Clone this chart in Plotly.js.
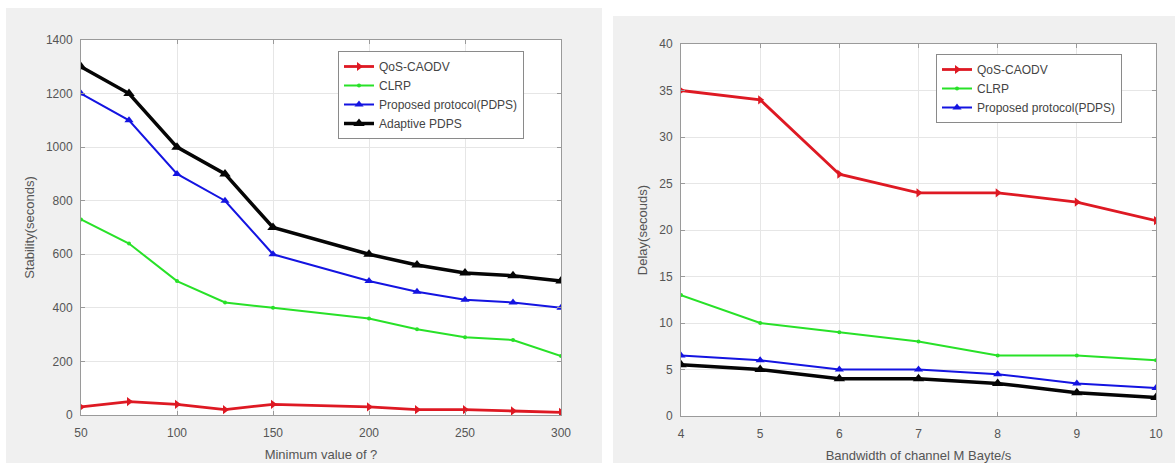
<!DOCTYPE html>
<html>
<head>
<meta charset="utf-8">
<script src="https://cdn.plot.ly/plotly-3.0.1.min.js"></script>
<style>html,body{margin:0;padding:0;background:#fff;}#chart{width:1175px;height:463px;}</style>
</head>
<body>
<div id="chart"></div>
<script>
// Left chart: stability vs minimum value
const xLeft = [50, 75, 100, 125, 150, 200, 225, 250, 275, 300];
const qosLeft = [30, 50, 40, 20, 40, 30, 20, 20, 15, 10];
const clrpLeft = [730, 640, 500, 420, 400, 360, 320, 290, 280, 220];
const pdpsLeft = [1200, 1100, 900, 800, 600, 500, 460, 430, 420, 400];
const adaptiveLeft = [1300, 1200, 1000, 900, 700, 600, 560, 530, 520, 500];

// Right chart: delay vs bandwidth
const xRight = [4, 5, 6, 7, 8, 9, 10];
const qosRight = [35, 34, 26, 24, 24, 23, 21];
const clrpRight = [13, 10, 9, 8, 6.5, 6.5, 6];
const pdpsRight = [6.5, 6, 5, 5, 4.5, 3.5, 3];
const adaptiveRight = [5.5, 5, 4, 4, 3.5, 2.5, 2];

const names = ["QoS-CAODV", "CLRP", "Proposed protocol(PDPS)", "Adaptive PDPS"];
const xTitleLeft = "Minimum value of ?";
const yTitleLeft = "Stability(seconds)";
const xTitleRight = "Bandwidth of channel M Bayte/s";
const yTitleRight = "Delay(secouds)";

const RED = "rgb(222,25,35)", GREEN = "rgb(40,225,40)", BLUE = "rgb(20,20,225)", BLACK = "rgb(5,5,5)";
const styles = [
  {color: RED, width: 2.8, symbol: "triangle-right", size: 8},
  {color: GREEN, width: 2, symbol: "circle", size: 4},
  {color: BLUE, width: 2, symbol: "triangle-up", size: 8},
  {color: BLACK, width: 3.5, symbol: "triangle-up", size: 10}
];

function tr(x, y, i, xa, ya, legend, show) {
  const s = styles[i];
  return {
    x: x, y: y, name: names[i], type: "scatter", mode: "lines+markers",
    xaxis: xa, yaxis: ya, legend: legend, showlegend: show,
    line: {color: s.color, width: s.width},
    marker: {color: s.color, symbol: s.symbol, size: s.size}
  };
}

const data = [
  tr(xLeft, qosLeft, 0, "x", "y", "legend", true),
  tr(xLeft, clrpLeft, 1, "x", "y", "legend", true),
  tr(xLeft, pdpsLeft, 2, "x", "y", "legend", true),
  tr(xLeft, adaptiveLeft, 3, "x", "y", "legend", true),
  tr(xRight, adaptiveRight, 3, "x2", "y2", "legend2", false),
  tr(xRight, qosRight, 0, "x2", "y2", "legend2", true),
  tr(xRight, clrpRight, 1, "x2", "y2", "legend2", true),
  tr(xRight, pdpsRight, 2, "x2", "y2", "legend2", true)
];

const FONT = "Liberation Sans, Arial, sans-serif";
const TITLE_FONT = {family: FONT, size: 13, color: "#555"};
const axisBase = {
  showline: true, mirror: "ticks", linecolor: "#9a9a9a", linewidth: 1,
  ticks: "inside", ticklen: 4, tickcolor: "#9a9a9a",
  showgrid: true, gridcolor: "#e6e6e6", gridwidth: 1, zeroline: false,
  tickfont: {family: FONT, size: 12, color: "#555"},
  fixedrange: true
};

const W = 1175, H = 463;
const px = v => v / W, py = v => 1 - v / H;

const layout = {
  width: W, height: H,
  margin: {l: 0, r: 0, t: 0, b: 0},
  paper_bgcolor: "#ffffff",
  plot_bgcolor: "rgba(0,0,0,0)",
  font: {family: FONT, color: "#555"},
  xaxis: Object.assign({}, axisBase, {
    domain: [px(81), px(561)], range: [50, 300], tickvals: [50, 100, 150, 200, 250, 300],
    anchor: "y", ticklabelstandoff: 7,
    title: {text: xTitleLeft, font: TITLE_FONT, standoff: 10}
  }),
  yaxis: Object.assign({}, axisBase, {
    domain: [py(415), py(40)], range: [0, 1400], dtick: 200, anchor: "x", ticklabelstandoff: 5,
    title: {text: yTitleLeft, font: TITLE_FONT, standoff: 8}
  }),
  xaxis2: Object.assign({}, axisBase, {
    domain: [px(681), px(1156)], range: [4, 10], dtick: 1, anchor: "y2", ticklabelstandoff: 7,
    title: {text: xTitleRight, font: TITLE_FONT, standoff: 10}
  }),
  yaxis2: Object.assign({}, axisBase, {
    domain: [py(416), py(44)], range: [0, 40], dtick: 5, anchor: "x2", ticklabelstandoff: 5,
    title: {text: yTitleRight, font: TITLE_FONT, standoff: 8}
  }),
  legend: {
    x: px(338), y: py(51), xanchor: "left", yanchor: "top",
    bgcolor: "#ffffff", bordercolor: "#8a8a8a", borderwidth: 1,
    font: {family: FONT, size: 12, color: "#444"}, tracegroupgap: 0,
    itemclick: false, itemdoubleclick: false
  },
  legend2: {
    x: px(936), y: py(54), xanchor: "left", yanchor: "top",
    bgcolor: "#ffffff", bordercolor: "#8a8a8a", borderwidth: 1,
    font: {family: FONT, size: 12, color: "#444"}, tracegroupgap: 0,
    itemclick: false, itemdoubleclick: false
  },
  shapes: [
    {type: "rect", xref: "paper", yref: "paper", x0: px(6), x1: px(602), y0: 0, y1: py(8),
     fillcolor: "#f0f0f0", line: {width: 0}, layer: "below"},
    {type: "rect", xref: "paper", yref: "paper", x0: px(613), x1: 1, y0: 0, y1: py(16),
     fillcolor: "#f0f0f0", line: {width: 0}, layer: "below"},
    {type: "rect", xref: "x domain", yref: "y domain", x0: 0, x1: 1, y0: 0, y1: 1,
     fillcolor: "#ffffff", line: {width: 0}, layer: "below"},
    {type: "rect", xref: "x2 domain", yref: "y2 domain", x0: 0, x1: 1, y0: 0, y1: 1,
     fillcolor: "#ffffff", line: {width: 0}, layer: "below"}
  ]
};

Plotly.newPlot("chart", data, layout, {displayModeBar: false, staticPlot: true});
</script>
</body>
</html>
